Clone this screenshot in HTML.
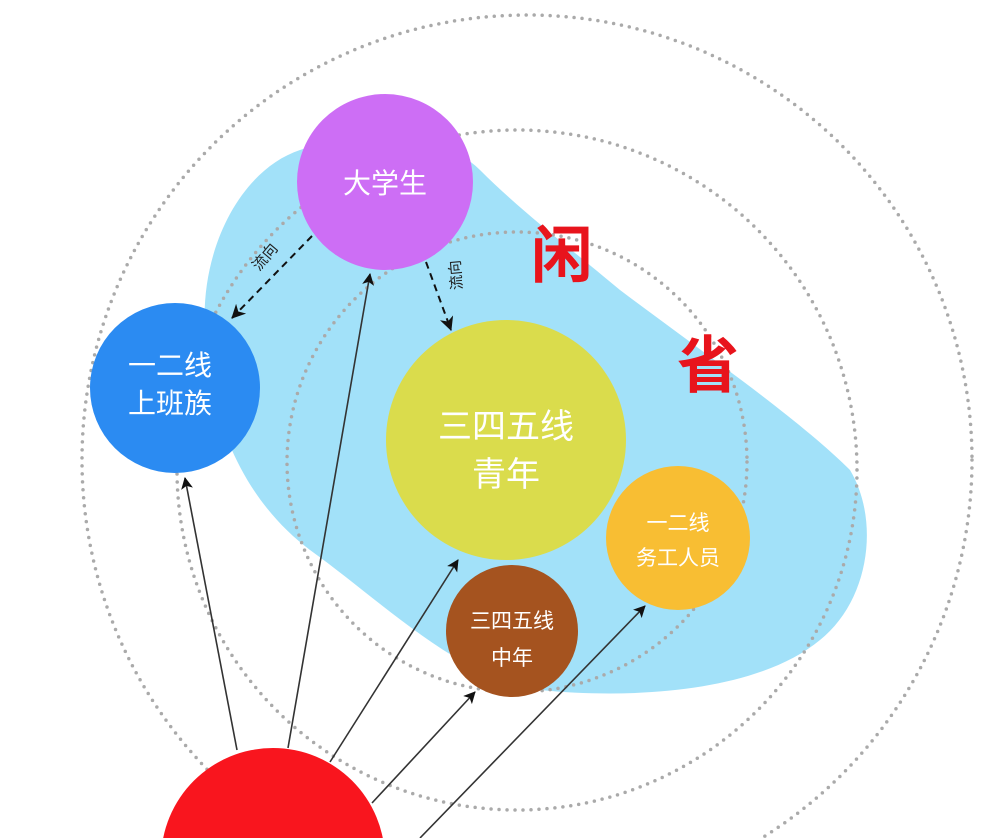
<!DOCTYPE html>
<html><head><meta charset="utf-8"><style>
html,body{margin:0;padding:0;background:#fff;width:1004px;height:838px;overflow:hidden;}
svg{display:block;}
text{font-family:"Liberation Sans","Noto Sans CJK SC",sans-serif;}
</style></head><body>
<svg width="1004" height="838" viewBox="0 0 1004 838" xmlns="http://www.w3.org/2000/svg">
<defs>
<marker id="ah" markerWidth="12" markerHeight="12" refX="11" refY="6" orient="auto" markerUnits="userSpaceOnUse" viewBox="0 0 12 12">
<path d="M0,0 L12,6 L0,12 L3,6 Z" fill="#111"/>
</marker>
<marker id="ah2" markerWidth="14" markerHeight="14" refX="13" refY="7" orient="auto" markerUnits="userSpaceOnUse" viewBox="0 0 14 14">
<path d="M0,0 L14,7 L0,14 L4,7 Z" fill="#111"/>
</marker>
</defs>
<path d="M205,330 C200,250 240,170 300,150 C360,130 440,130 480,170 C520,210 560,240 620,290 C700,350 800,420 850,470 C880,520 870,600 820,640 C760,690 640,700 540,690 C460,680 380,600 310,550 C250,505 210,430 205,330 Z" fill="#a2e1f9"/>
<g fill="none" stroke="#aaa" stroke-width="3.5" stroke-linecap="round" stroke-dasharray="0 8">
<circle cx="527" cy="460" r="445"/>
<circle cx="517" cy="470" r="340"/>
<circle cx="517" cy="462" r="230"/>
</g>
<circle cx="385" cy="182" r="88" fill="#cd6ef5"/>
<circle cx="175" cy="388" r="85" fill="#2b8bf2"/>
<circle cx="506" cy="440" r="120" fill="#dadc4c"/>
<circle cx="512" cy="631" r="66" fill="#a5531f"/>
<circle cx="678" cy="538" r="72" fill="#f8be33"/>
<circle cx="273" cy="860" r="112" fill="#f9151e"/>
<g stroke="#333" stroke-width="1.6" fill="none" marker-end="url(#ah)">
<line x1="237" y1="750" x2="185" y2="478"/>
<line x1="288" y1="748" x2="370" y2="274"/>
<line x1="330" y1="762" x2="458" y2="560"/>
<line x1="372" y1="803" x2="475" y2="692"/>
<line x1="420" y1="838" x2="645" y2="606"/>
</g>
<g stroke="#111" stroke-width="2" stroke-dasharray="7 5" fill="none" marker-end="url(#ah2)">
<line x1="312" y1="236" x2="232" y2="318"/>
<line x1="426" y1="262" x2="451" y2="330"/>
</g>
<text x="265" y="262" font-size="15" fill="#222" transform="rotate(-50 265 257)" text-anchor="middle">流向</text>
<text x="456" y="280" font-size="15" fill="#222" transform="rotate(-95 456 275)" text-anchor="middle">流向</text>
<g fill="#fff" text-anchor="middle">
<text x="385" y="193" font-size="28">大学生</text>
<text x="170" y="375" font-size="28">一二线</text>
<text x="170" y="413" font-size="28">上班族</text>
<text x="506" y="438" font-size="34">三四五线</text>
<text x="506" y="486" font-size="34">青年</text>
<text x="512" y="628" font-size="21">三四五线</text>
<text x="512" y="665" font-size="21">中年</text>
<text x="678" y="530" font-size="21">一二线</text>
<text x="678" y="565" font-size="21">务工人员</text>
</g>
<text x="562" y="277" font-size="62" font-weight="bold" fill="#e8141c" text-anchor="middle">闲</text>
<text x="708" y="387" font-size="62" font-weight="bold" fill="#e8141c" text-anchor="middle">省</text>
</svg>
</body></html>
